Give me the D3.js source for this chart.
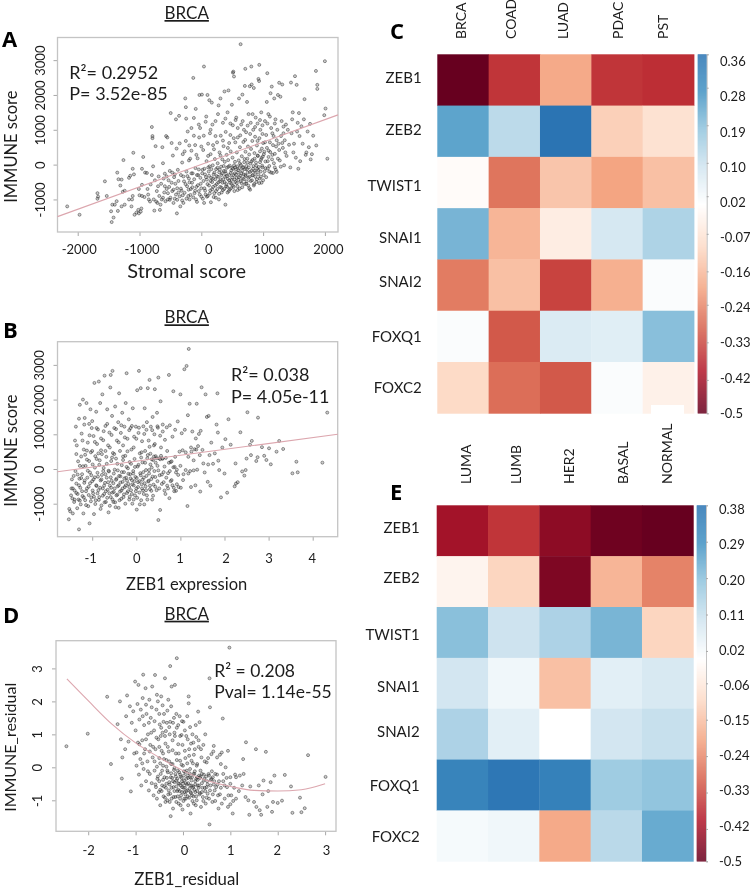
<!DOCTYPE html>
<html>
<head>
<meta charset="utf-8">
<script src="https://d3js.org/d3.v7.min.js"></script>
<style>
  html, body { margin: 0; padding: 0; background: #fff; }
  svg { display: block; filter: blur(0.25px); }
  text { font-family: Lato, "Open Sans", sans-serif; fill: #1c1c1c; }
  .letter { font-family: "Open Sans", sans-serif; font-weight: 700; font-size: 22px; fill: #000; }
  .title { text-decoration: underline; }
  .tick line { stroke: #a8a8a8; }
</style>
</head>
<body>
<div id="fig"></div>
<script>
// ---- panel A: stromal score vs immune score
var stromalPoints = [[-2170,-1200],[-1970,-1440],[-1680,-820],[-1670,-920],[-1680,-980],[-1560,-480],[-1530,-900],[-1460,-1340],[-1450,-1650],[-1420,-1520],[-1440,-1150],[-1400,-1150],[-1370,-1050],[-1350,-1330],[-1340,-420],[-1360,-230],[-1310,-600],[-1290,-430],[-1290,-1200],[-1270,-780],[-1240,-750],[-1240,-1150],[-1260,130],[-1170,-1000],[-1170,-380],[-1150,-320],[-1130,-1200],[-1120,-1000],[-1110,-900],[-1100,340],[-1110,-120],[-1090,-280],[-1080,-1440],[-1050,-1380],[-1020,-1300],[-1010,-1400],[-1010,-700],[-1000,-880],[-980,-1350],[-970,-1260],[-960,-580],[-960,-900],[-960,-120],[-940,220],[-920,-930],[-910,-230],[-880,-240],[-870,-700],[-860,-860],[-850,-1000],[-830,-1060],[-820,-570],[-800,-300],[-800,1080],[-790,760],[-790,820],[-780,-50],[-770,-1000],[-760,-1320],[-750,-450],[-740,530],[-730,-1060],[-720,-760],[-710,-1100],[-700,-620],[-690,-340],[-680,-900],[-670,-1300],[-660,-1150],[-650,-550],[-640,-1000],[-630,500],[-620,40],[-610,-400],[-600,-800],[-590,-260],[-580,-1050],[-570,820],[-560,-700],[-550,780],[-540,-1000],[-530,-450],[-520,-640],[-510,-180],[-500,-950],[-495,1480],[-480,620],[-470,-760],[-460,260],[-450,-1100],[-440,-360],[-430,-980],[-420,-550],[-410,1300],[-400,460],[-395,-1400],[-390,-680],[-380,-150],[-370,-800],[-360,1400],[-350,610],[-340,-1200],[-330,-300],[-320,-750],[-310,60],[-300,-880],[-290,-1100],[-280,-480],[-270,380],[-260,1900],[-250,1650],[-245,1320],[-240,-200],[-230,-620],[-220,950],[-210,-900],[-200,-400],[-195,550],[-190,-1000],[-180,170],[-170,-700],[-160,1050],[-150,-520],[-140,-250],[-130,2490],[-120,1340],[-110,-820],[-100,560],[-95,-100],[-90,1600],[-80,-640],[-70,-1070],[-60,180],[-50,-300],[-40,-760],[-35,780],[-30,2000],[-20,1050],[-10,-550],[0,-920],[10,2010],[20,-150],[30,420],[43,2816],[45,-1100],[50,-680],[60,-280],[70,-860],[80,1380],[85,100],[90,-430],[100,2000],[105,-900],[110,600],[120,-200],[125,-600],[130,1850],[135,-50],[140,900],[145,-740],[150,300],[155,-1080],[160,-380],[170,1780],[175,-500],[180,1150],[185,-20],[190,-640],[200,-280],[205,440],[210,-820],[220,160],[225,-420],[230,1250],[235,-950],[240,-130],[250,-560],[255,640],[260,-700],[265,40],[270,-350],[280,1700],[285,-1000],[290,-220],[295,350],[300,-480],[305,-640],[310,1900],[315,830],[320,-60],[325,-300],[330,-800],[340,150],[345,-520],[350,1200],[355,-420],[360,530],[365,-180],[370,-700],[375,2100],[380,80],[385,-350],[390,-1150],[395,940],[400,-260],[405,-560],[410,280],[415,-90],[420,-640],[425,1500],[430,-410],[435,130],[440,2130],[445,-760],[450,620],[455,-300],[460,-30],[465,-520],[470,1180],[475,380],[480,-680],[485,-170],[490,-440],[495,1720],[500,-90],[505,200],[510,-600],[512,2640],[518,2670],[520,-300],[525,760],[529,2530],[530,-20],[535,-760],[540,-250],[545,80],[550,-500],[555,1280],[560,-140],[565,1350],[570,-380],[575,350],[580,-50],[585,-620],[590,780],[595,-230],[600,-440],[605,120],[610,1900],[615,-100],[620,-690],[625,500],[630,-320],[636,3458],[640,-10],[645,1150],[650,-530],[655,240],[660,-180],[665,2010],[670,-400],[675,-90],[680,650],[685,-280],[690,1000],[695,70],[700,-560],[705,2260],[710,-130],[712,2750],[715,370],[720,-330],[725,930],[730,-40],[735,-480],[740,1800],[745,170],[750,-230],[755,520],[760,-600],[765,1450],[770,-80],[775,290],[780,-350],[785,2250],[790,-720],[795,30],[800,1200],[805,450],[809,2816],[810,-180],[815,2300],[820,-450],[825,680],[830,130],[835,-300],[840,1000],[845,-40],[850,2200],[855,-560],[860,330],[865,-180],[870,800],[875,-350],[880,1350],[885,60],[890,-500],[900,550],[905,-120],[910,1180],[915,250],[920,-280],[925,2460],[930,-70],[935,2400],[938,2864],[940,760],[945,-400],[950,380],[955,1000],[960,-200],[965,140],[970,1500],[975,-520],[980,460],[985,-30],[990,1130],[995,230],[1000,620],[1010,-300],[1020,370],[1030,1250],[1040,-100],[1050,850],[1060,1800],[1068,2625],[1075,100],[1085,1450],[1090,400],[1100,-200],[1110,640],[1120,2050],[1130,1050],[1140,2240],[1150,280],[1160,-240],[1170,820],[1180,1900],[1190,-80],[1200,1300],[1210,520],[1220,-210],[1230,1000],[1240,2000],[1250,600],[1260,2350],[1270,120],[1280,1950],[1290,820],[1300,1250],[1310,2300],[1320,480],[1330,1090],[1340,-20],[1350,700],[1370,1150],[1380,250],[1400,1000],[1420,570],[1440,-80],[1451,2356],[1460,900],[1470,1300],[1480,1500],[1490,350],[1500,600],[1516,2540],[1530,200],[1543,2290],[1550,950],[1560,1200],[1570,-120],[1580,1480],[1590,820],[1600,100],[1620,1100],[1640,600],[1660,1300],[1670,1880],[1690,280],[1700,350],[1720,950],[1740,500],[1760,1170],[1770,150],[1790,300],[1810,830],[1855,2690],[1877,2290],[1877,2174],[1860,550],[1990,1420],[2000,2970],[2010,1610],[2040,170],
[-620,-950],[-590,-620],[-560,-340],[-540,-820],[-510,-1010],[-480,-520],[-470,-230],[-450,-720],[-430,-280],[-410,-860],[-390,-1010],[-370,-470],[-350,-910],[-330,-690],[-310,-1030],[-290,-340],[-270,-810],[-255,-560],[-240,-980],[-225,-330],[-205,-720],[-190,-510],[-175,-870],[-160,-250],[-145,-650],[-130,-940],[-115,-420],[-100,-750],[-85,-1000],[-70,-300],[-55,-590],[-40,-140],[-25,-860],[-15,-380],[0,-680],[15,-250],[25,-980],[35,-470],[50,-120],[62,-750],[75,-360],[90,-920],[100,-560],[112,-80],[125,-320],[138,-830],[150,-470],[163,-130],[175,-710],[188,-400],[200,-930],[212,-230],[225,-600],[238,-760],[250,-330],[262,-90],[275,-510],[288,-840],[300,-150],[312,-420],[325,-660],[338,-250],[350,-730],[362,-40],[375,-500],[388,-190],[400,-620],[412,-330],[425,-800],[438,-60],[450,-450],[462,-710],[475,-240],[488,-550],[500,-370],[512,-120],[525,-640],[538,-430],[550,-80],[562,-290],[575,-530],[588,-730],[600,-160],[612,-360],[625,30],[638,-480],[650,-250],[662,-650],[675,-70],[688,-420],[700,160],[712,-300],[725,-550],[738,-130],[750,60],[762,-380],[775,-680],[788,-210],[800,-470],[812,90],[825,-310],[838,-120],[850,-600],[862,170],[875,-230],[888,-30],[900,-420],[912,260],[925,-160],[938,-530],[950,70],[962,-350],[975,190],[988,-80],[1000,-450],[1012,300],[1025,-190],[1038,90],[1050,-360],[1062,480],[1075,-110],[1088,220],[1100,-40],[1115,360],[1130,-230],[1145,150],[1160,560],[1175,40],[1190,310],[1205,-150],[1220,700],[1240,170],[1260,420],[1285,-60],[1310,620],[1330,900],[1360,350],
[-300,300],[-250,680],[-200,120],[-160,400],[-120,830],[-80,280],[-40,1150],[0,520],[40,830],[70,1230],[110,250],[150,1000],[190,560],[230,820],[270,1450],[310,260],[350,690],[390,1320],[430,480],[470,850],[510,1130],[550,640],[590,1050],[630,840],[670,1250],[710,710],[750,1120],[790,880],[830,1450],[870,1080],[910,680],[950,1280],[990,880],[1030,640],[1070,1180],[1110,1380],[1150,900],[1190,1180]];
var stromalFit = [[-2327,-1494],[2212,1428]];
var stromalXTicks = [-2000,-1000,0,1000,2000];
var immuneYTicks = [-1000,0,1000,2000,3000];

// ---- panel B: ZEB1 expression vs immune score
var zeb1Points = [[-1.53,-1450],[-1.52,-1150],[-1.5,-1220],[-1.48,-760],[-1.47,-560],[-1.46,-300],[-1.45,-850],[-1.44,-1280],[-1.42,-200],[-1.41,-950],[-1.4,-620],[-1.39,820],[-1.38,-60],[-1.37,1220],[-1.36,-420],[-1.35,680],[-1.34,-1130],[-1.33,-720],[-1.32,220],[-1.31,-880],[-1.3,-1740],[-1.3,1450],[-1.29,-280],[-1.28,1850],[-1.27,-540],[-1.26,-1020],[-1.25,360],[-1.24,1020],[-1.23,-150],[-1.22,-780],[-1.21,2000],[-1.2,-1280],[-1.19,560],[-1.18,-400],[-1.17,1470],[-1.16,-900],[-1.15,90],[-1.14,-640],[-1.13,1900],[-1.12,270],[-1.11,-250],[-1.1,760],[-1.09,-1070],[-1.08,-510],[-1.07,1300],[-1.06,-1567],[-1.05,-100],[-1.04,1720],[-1.03,480],[-1.02,-820],[-1.01,1180],[-1,-350],[-0.99,130],[-0.98,-700],[-0.97,950],[-0.96,-1300],[-0.95,2480],[-0.94,-240],[-0.93,370],[-0.92,-900],[-0.91,1650],[-0.9,-490],[-0.89,720],[-0.88,-110],[-0.87,1140],[-0.86,-610],[-0.85,2520],[-0.84,-810],[-0.83,250],[-0.82,1900],[-0.81,-330],[-0.8,540],[-0.79,-1050],[-0.78,-170],[-0.77,2150],[-0.76,-560],[-0.75,830],[-0.74,30],[-0.73,-720],[-0.72,2690],[-0.71,-400],[-0.7,1240],[-0.69,-950],[-0.68,350],[-0.67,-250],[-0.66,1720],[-0.65,-600],[-0.64,680],[-0.63,-1250],[-0.62,-70],[-0.61,1050],[-0.6,-480],[-0.59,2350],[-0.58,-810],[-0.58,2710],[-0.57,230],[-0.56,-340],[-0.55,1530],[-0.54,2827],[-0.54,-680],[-0.53,460],[-0.52,-950],[-0.51,-130],[-0.5,1180],[-0.49,-560],[-0.48,1800],[-0.47,-1100],[-0.46,300],[-0.45,-280],[-0.44,820],[-0.43,-740],[-0.42,-40],[-0.41,1350],[-0.4,-470],[-0.39,2180],[-0.38,-900],[-0.37,520],[-0.36,-210],[-0.35,1040],[-0.34,-620],[-0.33,110],[-0.32,1620],[-0.31,-370],[-0.3,680],[-0.29,-810],[-0.28,-90],[-0.27,1220],[-0.26,-520],[-0.25,380],[-0.24,1900],[-0.23,-250],[-0.22,2760],[-0.21,-690],[-0.2,870],[-0.19,20],[-0.18,-430],[-0.17,1430],[-0.16,-880],[-0.15,200],[-0.14,-150],[-0.13,1180],[-0.12,-610],[-0.11,560],[-0.1,-320],[-0.09,-1000],[-0.08,1750],[-0.07,-60],[-0.06,-470],[-0.05,930],[-0.04,290],[-0.03,-760],[-0.02,-230],[-0.01,1220],[0,-560],[0.01,-1170],[0.02,2270],[0.03,70],[0.04,-380],[0.05,1040],[0.06,2827],[0.07,-680],[0.08,450],[0.09,-120],[0.1,2330],[0.11,-900],[0.12,-440],[0.13,800],[0.14,190],[0.15,-620],[0.16,1230],[0.17,-250],[0.18,-1020],[0.19,1750],[0.2,520],[0.21,-500],[0.22,-30],[0.23,1130],[0.24,-760],[0.25,310],[0.26,2330],[0.27,-360],[0.28,820],[0.29,-130],[0.3,2567],[0.31,-580],[0.32,440],[0.33,1220],[0.34,-290],[0.35,40],[0.36,-880],[0.37,1500],[0.38,260],[0.39,-450],[0.4,680],[0.41,1000],[0.42,2300],[0.43,-230],[0.44,370],[0.46,-610],[0.47,1620],[0.48,90],[0.49,1190],[0.5,-1470],[0.5,2635],[0.52,310],[0.53,-180],[0.54,-1180],[0.55,1950],[0.56,620],[0.58,-430],[0.59,300],[0.6,1280],[0.62,-90],[0.64,-620],[0.65,840],[0.67,320],[0.69,1200],[0.7,-480],[0.72,-120],[0.74,2710],[0.75,-840],[0.76,1260],[0.78,200],[0.8,-320],[0.82,930],[0.84,2240],[0.85,-540],[0.87,60],[0.88,1130],[0.9,-630],[0.92,-20],[0.94,1370],[0.95,-170],[0.98,500],[1,2150],[1.01,-540],[1.03,1030],[1.05,540],[1.07,-150],[1.09,2875],[1.1,1130],[1.12,-30],[1.14,2970],[1.16,-1067],[1.17,1550],[1.18,350],[1.19,3460],[1.21,1880],[1.22,-60],[1.24,-520],[1.25,500],[1.27,1080],[1.3,250],[1.32,570],[1.34,-470],[1.35,880],[1.37,1880],[1.38,-20],[1.4,660],[1.42,1010],[1.44,400],[1.45,-650],[1.46,1100],[1.48,2355],[1.5,550],[1.52,160],[1.55,-100],[1.57,2150],[1.6,1500],[1.62,-370],[1.63,130],[1.64,1530],[1.66,400],[1.68,-480],[1.7,760],[1.74,150],[1.78,450],[1.82,1280],[1.84,2180],[1.85,1050],[1.86,240],[1.88,-30],[1.92,-817],[1.95,620],[2,-130],[2.02,860],[2.06,-683],[2.09,1433],[2.14,700],[2.23,-500],[2.25,160],[2.26,-420],[2.3,-380],[2.36,1058],[2.4,-70],[2.45,-190],[2.48,-30],[2.5,300],[2.52,1635],[2.58,700],[2.6,400],[2.62,810],[2.76,1480],[2.72,230],[2.75,340],[2.85,630],[2.9,380],[2.95,260],[3.01,596],[3.05,135],[3.18,500],[3.24,808],[3.33,577],[3.54,-125],[3.63,210],[3.66,-96],[4.22,183],[4.33,1625],
[-1.44,-560],[-1.4,-880],[-1.36,-690],[-1.33,-160],[-1.3,-470],[-1.28,-910],[-1.25,-260],[-1.23,-640],[-1.21,80],[-1.19,-820],[-1.17,-330],[-1.16,410],[-1.14,-1040],[-1.12,-560],[-1.1,-50],[-1.08,-750],[-1.07,230],[-1.05,-410],[-1.03,-930],[-1.02,-180],[-1,520],[-0.99,-620],[-0.97,-300],[-0.96,-800],[-0.94,40],[-0.93,-1010],[-0.91,-470],[-0.9,290],[-0.88,-700],[-0.87,-220],[-0.85,-890],[-0.84,120],[-0.82,-540],[-0.81,-1150],[-0.79,-300],[-0.78,430],[-0.76,-770],[-0.75,-60],[-0.73,-480],[-0.72,-960],[-0.7,-150],[-0.69,-640],[-0.67,150],[-0.66,-830],[-0.64,-380],[-0.63,-50],[-0.61,-700],[-0.6,-1060],[-0.58,-240],[-0.57,-540],[-0.55,330],[-0.54,-880],[-0.52,-410],[-0.51,-660],[-0.49,-20],[-0.48,-960],[-0.46,-310],[-0.45,-760],[-0.43,150],[-0.42,-500],[-0.4,-1120],[-0.39,-200],[-0.37,-650],[-0.36,-390],[-0.34,-860],[-0.33,-90],[-0.31,-560],[-0.3,260],[-0.28,-730],[-0.27,-270],[-0.25,-1000],[-0.24,-470],[-0.22,60],[-0.21,-340],[-0.19,-640],[-0.18,-140],[-0.16,-520],[-0.15,-800],[-0.13,-270],[-0.12,150],[-0.1,-720],[-0.09,-440],[-0.07,-130],[-0.06,-880],[-0.04,-350],[-0.03,60],[-0.01,-640],[0.01,-260],[0.02,-830],[0.04,-520],[0.05,120],[0.07,-350],[0.08,-1020],[0.1,-180],[0.11,330],[0.13,-560],[0.14,-310],[0.16,-90],[0.17,-720],[0.19,-410],[0.2,180],[0.22,-610],[0.23,-200],[0.25,-880],[0.26,400],[0.28,-340],[0.29,-30],[0.31,-480],[0.32,130],[0.34,-630],[0.35,280],[0.37,-220],[0.38,-770],[0.4,360],[0.41,-60],[0.43,-510],[0.44,180],[0.46,310],[0.48,-350],[0.5,-40],[0.52,-560],[0.54,280],[0.56,380],[0.58,-160],[0.6,300],[0.62,-380],[0.64,70],[0.66,-720],[0.68,-250],[0.7,520],[0.72,-560],[0.74,180],[0.76,-60],[0.78,-350],[0.8,220],[0.82,-470],[0.84,50],[0.86,-640],[0.88,350],[0.9,-100],[0.92,-440],[0.96,-520],[1,90],[1.06,-320],[1.12,480],[1.18,-130],[1.24,620],[1.3,-40],[1.36,560],
[-1.36,430],[-1.28,90],[-1.22,820],[-1.18,1280],[-1.12,530],[-1.06,970],[-1,1380],[-0.94,780],[-0.9,1180],[-0.86,450],[-0.8,880],[-0.74,1090],[-0.7,520],[-0.66,1300],[-0.6,620],[-0.56,980],[-0.5,430],[-0.46,1150],[-0.4,770],[-0.34,1260],[-0.3,360],[-0.26,910],[-0.2,510],[-0.16,1120],[-0.1,1240],[-0.06,620],[0,870],[0.06,1190],[0.12,480],[0.18,1010],[0.24,1350],[0.3,640],[0.36,1120],[0.42,720],[0.48,1230],[0.54,960],[0.6,1080]];
var zeb1Fit = [[-1.787,-78],[4.567,1000]];
var zeb1XTicks = [-1,0,1,2,3,4];

// ---- panel D: residuals
var residualPoints = [[-2.46,0.64],[-2.01,1.02],[-1.6,2.14],[-1.52,0.1],[-1.38,1.31],[-1.33,2.0],[-1.31,0.85],[-1.29,-0.34],[-1.28,0.3],[-1.22,0.55],[-1.2,1.55],[-1.18,2.18],[-1.15,0.78],[-1.12,1.85],[-1.1,-0.73],[-1.08,1.35],[-1.05,1.7],[-1.03,0.42],[-1.01,2.6],[-1,1.12],[-0.98,0.05],[-0.96,1.92],[-0.95,0.75],[-0.94,2.5],[-0.93,-0.22],[-0.92,1.45],[-0.9,0.25],[-0.89,1.75],[-0.88,-0.55],[-0.86,0.82],[-0.85,2.1],[-0.84,2.81],[-0.83,-0.05],[-0.82,1.28],[-0.8,0.55],[-0.79,2.4],[-0.78,-0.42],[-0.77,1.62],[-0.75,0.18],[-0.74,1.0],[-0.72,-0.7],[-0.71,2.05],[-0.7,-0.2],[-0.69,0.68],[-0.68,1.5],[-0.66,-0.48],[-0.65,2.45],[-0.64,0.3],[-0.62,-0.85],[-0.61,1.12],[-0.6,-0.1],[-0.59,2.8],[-0.58,0.55],[-0.57,-0.6],[-0.56,1.75],[-0.55,0.02],[-0.54,-0.35],[-0.53,2.0],[-0.52,0.85],[-0.51,-0.75],[-0.5,0.28],[-0.49,1.3],[-0.48,-1.15],[-0.47,-0.2],[-0.46,2.15],[-0.45,0.5],[-0.44,-0.55],[-0.43,1.05],[-0.42,0.05],[-0.41,-0.88],[-0.4,1.62],[-0.39,-0.3],[-0.38,2.7],[-0.37,0.72],[-0.36,-0.62],[-0.35,0.22],[-0.34,1.35],[-0.33,-1.0],[-0.32,-0.15],[-0.31,2.05],[-0.3,0.48],[-0.29,-0.45],[-0.28,1.0],[-0.27,3.07],[-0.27,-0.8],[-0.26,-1.48],[-0.25,0.1],[-0.24,2.45],[-0.23,-0.32],[-0.22,0.82],[-0.21,-1.25],[-0.2,-0.6],[-0.19,1.5],[-0.18,-0.02],[-0.17,2.5],[-0.16,-0.9],[-0.15,0.42],[-0.14,-0.4],[-0.13,3.31],[-0.13,1.2],[-0.12,-0.72],[-0.11,-0.1],[-0.1,0.7],[-0.09,-1.1],[-0.08,-0.5],[-0.07,1.55],[-0.06,0.2],[-0.05,-0.28],[-0.04,-0.85],[-0.03,0.98],[-0.02,-0.6],[-0.01,-1.28],[0,0.05],[0.01,1.38],[0.02,-0.4],[0.03,-0.75],[0.04,0.5],[0.05,-0.15],[0.06,-0.95],[0.07,0.95],[0.08,-0.52],[0.09,1.55],[0.1,-0.25],[0.11,-1.15],[0.12,2.15],[0.12,1.94],[0.13,0.35],[0.14,-0.65],[0.15,-0.05],[0.16,-1.4],[0.17,0.72],[0.18,-0.4],[0.19,-0.85],[0.2,1.0],[0.21,0.12],[0.22,-0.58],[0.23,-1.1],[0.24,-0.2],[0.25,0.55],[0.26,-0.75],[0.27,1.28],[0.28,-0.35],[0.29,-1.0],[0.3,0.1],[0.31,-0.55],[0.32,1.69],[0.33,0.62],[0.34,-0.25],[0.35,1.37],[0.36,-0.78],[0.37,-0.1],[0.38,-1.2],[0.39,0.3],[0.4,-0.48],[0.42,-0.9],[0.43,0.68],[0.44,-0.22],[0.46,-0.62],[0.47,1.0],[0.48,-1.1],[0.5,0.15],[0.51,-0.42],[0.52,-0.8],[0.54,-0.2],[0.56,2.7],[0.56,-1.73],[0.57,1.82],[0.58,-0.55],[0.6,0.4],[0.62,-1.05],[0.63,-0.3],[0.65,0.65],[0.67,-0.7],[0.68,-0.2],[0.72,0.3],[0.73,-0.52],[0.75,-1.25],[0.78,-0.82],[0.8,0.1],[0.82,0.45],[0.84,1.48],[0.85,-0.42],[0.88,-0.95],[0.9,0.0],[0.93,-0.6],[0.95,-1.2],[0.95,0.5],[0.98,3.63],[1,-0.3],[1.0,-1.12],[1.02,-0.85],[1.05,-1.4],[1.08,-0.62],[1.1,-0.22],[1.12,-0.95],[1.2,-0.25],[1.25,-0.55],[1.27,0.25],[1.28,-0.2],[1.33,0.76],[1.32,-0.9],[1.38,-1.0],[1.4,-1.44],[1.42,-0.58],[1.5,-1.05],[1.54,0.55],[1.55,-1.2],[1.6,-0.55],[1.62,-1.3],[1.65,-1.44],[1.68,-0.82],[1.7,-0.4],[1.75,0.47],[1.78,-1.2],[1.8,-0.72],[1.85,-0.45],[1.88,-1.35],[1.9,-1.05],[1.93,-0.25],[2,-1.08],[2.09,-1.01],[2.15,-0.23],[2.28,-0.58],[2.31,-1.38],[2.47,-0.92],[2.5,-1.36],[2.57,-1.24],[2.64,0.37],[3.01,-0.29],
[-0.55,-0.95],[-0.5,-0.42],[-0.48,0.12],[-0.45,-0.72],[-0.42,-0.38],[-0.4,0.25],[-0.38,-0.92],[-0.35,-0.5],[-0.33,-0.1],[-0.3,-0.7],[-0.28,-1.05],[-0.26,-0.3],[-0.24,-0.62],[-0.22,0.1],[-0.2,-0.9],[-0.18,-0.45],[-0.16,-0.2],[-0.14,-1.05],[-0.12,-0.35],[-0.1,-0.68],[-0.08,-0.15],[-0.06,-0.95],[-0.05,-0.55],[-0.03,-0.32],[-0.02,-0.75],[0,-0.5],[0.01,-1.02],[0.02,-0.25],[0.04,-0.62],[0.05,-0.82],[0.07,-0.35],[0.08,-0.1],[0.1,-0.7],[0.11,-0.48],[0.13,-0.92],[0.15,-0.3],[0.16,-0.75],[0.18,-0.55],[0.2,-1.02],[0.22,-0.2],[0.24,-0.68],[0.26,-0.42],[0.28,-0.88],[0.3,-0.3],[0.33,-0.62],[0.36,-0.32],[0.4,-0.75],[0.45,-0.35],[0.5,-0.6],[0.55,-0.95],[0.6,-0.35],[0.65,-0.52],
[-0.98,0.45],[-0.92,0.7],[-0.86,0.12],[-0.82,0.42],[-0.78,0.85],[-0.74,-0.12],[-0.7,0.48],[-0.67,1.05],[-0.63,0.62],[-0.6,0.18],[-0.58,-0.52],[-0.56,0.9],[-0.53,-0.28],[-0.5,0.62],[-0.48,-0.68],[-0.46,1.2],[-0.44,-0.1],[-0.42,0.42],[-0.4,-0.58],[-0.38,0.95],[-0.37,-1.05],[-0.35,0.02],[-0.34,-0.32],[-0.32,0.62],[-0.31,-0.82],[-0.29,0.18],[-0.28,-0.52],[-0.27,1.38],[-0.25,-0.18],[-0.24,-0.95],[-0.22,0.52],[-0.21,-0.42],[-0.19,-0.08],[-0.18,-0.72],[-0.17,0.95],[-0.15,-0.28],[-0.14,-0.58],[-0.13,0.22],[-0.11,-0.88],[-0.1,-0.48],[-0.09,0.42],[-0.07,-0.72],[-0.06,-0.22],[-0.05,-1.15],[-0.03,0.08],[-0.02,-0.42],[-0.01,0.68],[0.01,-0.62],[0.02,-0.12],[0.03,-0.95],[0.05,0.28],[0.06,-0.48],[0.07,-0.72],[0.09,0.12],[0.1,-0.88],[0.11,-0.32],[0.13,0.55],[0.14,-0.18],[0.15,-0.55],[0.17,-0.78],[0.18,0.2],[0.19,-0.3],[0.21,-0.62],[0.22,-0.88],[0.23,0.38],[0.25,-0.12],[0.26,-0.52],[0.27,-1.15],[0.29,0.05],[0.3,-0.72],[0.31,-0.38],[0.33,0.82],[0.34,-0.55],[0.35,-0.82],[0.37,-0.28],[0.38,0.55],[0.4,-0.2],[0.41,-0.62],[0.43,-1.02],[0.44,-0.4],[0.46,0.18],[0.47,-0.72],[0.49,-0.28],[0.5,-0.92],[0.52,-0.52],[0.53,0.28],[0.55,-0.25],[0.57,-0.7],[0.59,-0.38],[0.61,-0.12],[0.63,-0.82],[0.64,0.48],[0.66,-0.42],[0.68,-1.02],[0.7,-0.6],[0.72,-0.22],[0.74,-0.85],[0.76,-0.42],[0.78,0.38],[0.8,-0.62],[0.82,-1.1],[0.85,-0.2],[0.88,-0.55],[0.92,-0.32],[0.96,-0.85],[1,-0.5],[1.06,-1.02],[1.12,-0.3],[1.18,-0.72],
[-0.85,1.55],[-0.78,1.9],[-0.72,1.35],[-0.66,1.82],[-0.6,1.4],[-0.55,2.2],[-0.5,1.62],[-0.47,0.95],[-0.43,1.88],[-0.41,1.38],[-0.36,1.1],[-0.33,1.72],[-0.29,1.22],[-0.25,1.85],[-0.21,1.35],[-0.18,1.05],[-0.14,1.62],[-0.1,1.28],[-0.06,0.95],[-0.02,1.4],[0.04,1.12],[0.1,0.85],[0.15,1.22],[0.22,0.75],[0.28,0.92]];
var residualFit = [[-2.45,2.68],[-2,2.02],[-1.5,1.31],[-1,0.74],[-0.5,0.3],[0,-0.1],[0.5,-0.4],[1,-0.58],[1.5,-0.7],[2,-0.72],[2.5,-0.68],[3,-0.5]];
var residualXTicks = [-2,-1,0,1,2,3];
var residualYTicks = [-1,0,1,2,3];

// ---- heatmaps
var genes = ["ZEB1","ZEB2","TWIST1","SNAI1","SNAI2","FOXQ1","FOXC2"];
var cancerTypes = ["BRCA","COAD","LUAD","PDAC","PST"];
var cancerValues = [
  [-0.5,-0.36,-0.19,-0.36,-0.37],
  [0.24,0.12,0.36,-0.12,-0.08],
  [-0.01,-0.27,-0.14,-0.2,-0.15],
  [0.21,-0.17,-0.05,0.08,0.14],
  [-0.26,-0.15,-0.34,-0.18,0.01],
  [0.01,-0.31,0.07,0.06,0.19],
  [-0.1,-0.28,-0.31,0.01,-0.04]
];
var cancerBarTicks = [0.36,0.28,0.19,0.10,0.02,-0.07,-0.16,-0.24,-0.33,-0.42,-0.5];
var subtypes = ["LUMA","LUMB","HER2","BASAL","NORMAL"];
var subtypeValues = [
  [-0.42,-0.36,-0.45,-0.49,-0.5],
  [-0.03,-0.11,-0.47,-0.17,-0.25],
  [0.2,0.1,0.15,0.22,-0.11],
  [0.09,0.03,-0.15,0.06,0.08],
  [0.15,0.06,0,0.09,0.11],
  [0.33,0.37,0.34,0.17,0.19],
  [0.02,0.03,-0.19,0.13,0.24]
];
var subtypeBarTicks = [0.38,0.29,0.20,0.11,0.02,-0.06,-0.15,-0.24,-0.33,-0.42,-0.5];
var rdBuStops = ["#67001f","#b2182b","#d6604d","#f4a582","#fddbc7","#ffffff","#d1e5f0","#92c5de","#4393c3","#2b74b3"];

var svg = d3.select("#fig").append("svg").attr("width", 750).attr("height", 889);

function label(txt, x, y, size, cls) {
  return svg.append("text").attr("x", x).attr("y", y).attr("font-size", size).attr("class", cls || null).text(txt);
}
function vLabel(txt, x, y, size, anchor) {
  return svg.append("text")
    .attr("transform", "translate(" + x + "," + y + ") rotate(-90)")
    .attr("text-anchor", anchor || "middle")
    .attr("font-size", size)
    .text(txt);
}

function drawScatter(o) {
  var x = d3.scaleLinear().domain(o.xDomain).range([o.left, o.right]);
  var y = d3.scaleLinear().domain(o.yDomain).range([o.bottom, o.top]);

  var xAxis = svg.append("g").attr("transform", "translate(0," + o.bottom + ")")
    .call(d3.axisBottom(x).tickValues(o.xTicks).tickSize(4).tickFormat(String));
  xAxis.select(".domain").remove();
  xAxis.selectAll("text")
    .attr("y", o.xLabelGap).attr("dy", 0)
    .attr("dx", function(d, i) { return o.xNudge ? o.xNudge[i] : 0; })
    .attr("font-size", 13).attr("font-family", "Lato");

  var yAxis = svg.append("g").attr("transform", "translate(" + o.left + ",0)")
    .call(d3.axisLeft(y).tickValues(o.yTicks).tickSize(4).tickFormat(String));
  yAxis.select(".domain").remove();
  yAxis.selectAll("text")
    .attr("x", 0).attr("dy", 0)
    .attr("transform", "translate(" + (-o.yLabelGap) + ",0) rotate(-90)")
    .attr("text-anchor", "middle")
    .attr("font-size", 13).attr("font-family", "Lato");

  svg.append("rect")
    .attr("x", o.left).attr("y", o.top)
    .attr("width", o.right - o.left).attr("height", o.bottom - o.top)
    .attr("fill", "none").attr("stroke", "#c4c4c4").attr("stroke-width", 1.3);

  svg.append("g").selectAll("circle")
    .data(o.points)
    .enter().append("circle")
    .attr("cx", function(d) { return x(d[0]); })
    .attr("cy", function(d) { return y(d[1]); })
    .attr("r", 1.5)
    .attr("fill", "rgba(90,90,90,0.3)")
    .attr("stroke", "rgba(25,25,25,0.62)")
    .attr("stroke-width", 0.7);

  var line = d3.line()
    .x(function(d) { return x(d[0]); })
    .y(function(d) { return y(d[1]); })
    .curve(d3.curveMonotoneX);
  svg.append("path").datum(o.fit)
    .attr("d", line)
    .attr("fill", "none").attr("stroke", "#dca6ae").attr("stroke-width", 1.1);
}

function drawHeatmap(o) {
  var x = d3.scaleBand().domain(o.cols).range([o.left, o.right]);
  var y = d3.scaleBand().domain(genes).range([o.top, o.bottom]);
  var top = o.barTicks[0];
  // white sits at zero, blue end stops at the top of the bar
  var tScale = d3.scaleLinear().domain([-0.5, 0, top]).range([0, 0.5, 0.9]);
  var ramp = d3.piecewise(d3.interpolateRgb, rdBuStops);
  var color = function(v) { return ramp(tScale(v) / 0.9); };

  var rows = svg.append("g").selectAll("g")
    .data(o.values).enter().append("g");
  rows.each(function(row, r) {
    d3.select(this).selectAll("rect")
      .data(row).enter().append("rect")
      .attr("x", function(d, c) { return x(o.cols[c]); })
      .attr("y", y(genes[r]))
      .attr("width", x.bandwidth() + 0.4)
      .attr("height", y.bandwidth() + 0.4)
      .attr("fill", function(d) { return color(d); });
  });

  genes.forEach(function(g, i) {
    label(g, o.rowLabelX, y(g) + y.bandwidth() / 2 + o.rowNudge[i] + 5.5, 15).attr("text-anchor", "end");
  });
  o.cols.forEach(function(c, i) {
    vLabel(c, x(c) + x.bandwidth() / 2 + o.colNudge[i] + 5.5, o.colLabelY, 14, "start");
  });

  // colour bar
  var barY = d3.scaleLinear().domain([-0.5, top]).range([o.bottom, o.top]);
  var steps = d3.range(o.top, o.bottom, 1);
  svg.append("g").selectAll("rect")
    .data(steps).enter().append("rect")
    .attr("x", o.barLeft).attr("y", function(d) { return d; })
    .attr("width", o.barWidth).attr("height", 1.2)
    .attr("fill", function(d) { return color(barY.invert(d + 0.5)); });
  var barAxis = svg.append("g").attr("transform", "translate(" + (o.barLeft + o.barWidth) + ",0)")
    .call(d3.axisRight(barY).tickValues(o.barTicks).tickSize(2).tickFormat(""));
  barAxis.select(".domain").attr("stroke", "#9a9a9a").attr("stroke-width", 0.6);
  barAxis.selectAll(".tick line").attr("stroke", "#555");

  var labelY = d3.scalePoint().domain(o.barTicks).range([o.barLabelTop, o.bottom]);
  o.barTicks.forEach(function(t) {
    label(t === -0.5 ? "-0.5" : t.toFixed(2), o.barLabelX, labelY(t) + 4.5, 13);
  });
}

drawScatter({
  points: stromalPoints, fit: stromalFit,
  xDomain: [-2327,2212], yDomain: [-1935,3650],
  left: 57.5, right: 338, top: 37.5, bottom: 232,
  xTicks: stromalXTicks, yTicks: immuneYTicks,
  xNudge: [1,2,7,5,3], xLabelGap: 22, yLabelGap: 12.5
});
drawScatter({
  points: zeb1Points, fit: zeb1Fit,
  xDomain: [-1.787,4.567], yDomain: [-1951,3668],
  left: 57.5, right: 337.7, top: 341.7, bottom: 536.7,
  xTicks: zeb1XTicks, yTicks: immuneYTicks,
  xNudge: [-2,0,-1,1,0,-1], xLabelGap: 26, yLabelGap: 14
});
drawScatter({
  points: residualPoints, fit: residualFit,
  xDomain: [-2.68,3.23], yDomain: [-1.94,3.84],
  left: 56, right: 336, top: 640.7, bottom: 831.3,
  xTicks: residualXTicks, yTicks: residualYTicks,
  xNudge: [0,-3,1,0,-1,1], xLabelGap: 24, yLabelGap: 14
});

drawHeatmap({
  cols: cancerTypes, values: cancerValues, barTicks: cancerBarTicks,
  left: 437.3, right: 694, top: 54.3, bottom: 413.3,
  rowLabelX: 421.7, rowNudge: [-2,-2,3.3,3.7,-3.3,0,0],
  colLabelY: 39, colNudge: [-2,-3.6,-2.7,0.7,-5.6],
  barLeft: 697.7, barWidth: 9, barLabelX: 720, barLabelTop: 61.7
});
drawHeatmap({
  cols: subtypes, values: subtypeValues, barTicks: subtypeBarTicks,
  left: 436.7, right: 693.3, top: 505.3, bottom: 861.3,
  rowLabelX: 419.7, rowNudge: [-3.7,-3.6,1.6,2.7,-3,0,0.8],
  colLabelY: 484, colNudge: [3.3,2,3.3,6,-0.9],
  barLeft: 696.7, barWidth: 9.3, barLabelX: 719, barLabelTop: 509.7
});

// white patch behind the NORMAL label, it overlaps the first heatmap
svg.append("rect").attr("x", 651).attr("y", 405).attr("width", 33).attr("height", 9).attr("fill", "#fff");

// titles
[19, 323.3, 619.7].forEach(function(by) {
  label("BRCA", 186.7, by, 17, "title").attr("text-anchor", "middle");
});

// panel letters
label("A", 2, 47, 22, "letter");
label("B", 3, 338, 22, "letter");
label("D", 3, 623, 22, "letter");
label("C", 390, 39, 22, "letter");
label("E", 390, 500, 22, "letter");

// axis titles
label("Stromal score", 186.7, 278, 20).attr("text-anchor", "middle");
label("ZEB1 expression", 186.7, 590, 16.5).attr("text-anchor", "middle");
label("ZEB1_residual", 186.7, 885, 16.8).attr("text-anchor", "middle");
vLabel("IMMUNE score", 16.5, 146.7, 16.5);
vLabel("IMMUNE score", 16.5, 450.7, 16.5);
vLabel("IMMUNE_residual", 16, 747.3, 16);

// stats text
label("R²= 0.2952", 69.3, 78.7, 18);
label("P= 3.52e-85", 69.3, 100, 18);
label("R²= 0.038", 231, 381, 18);
label("P= 4.05e-11", 231, 402.7, 18);
label("R² = 0.208", 214.3, 677, 17.5);
label("Pval= 1.14e-55", 214.3, 698, 17.5);
</script>
</body>
</html>
